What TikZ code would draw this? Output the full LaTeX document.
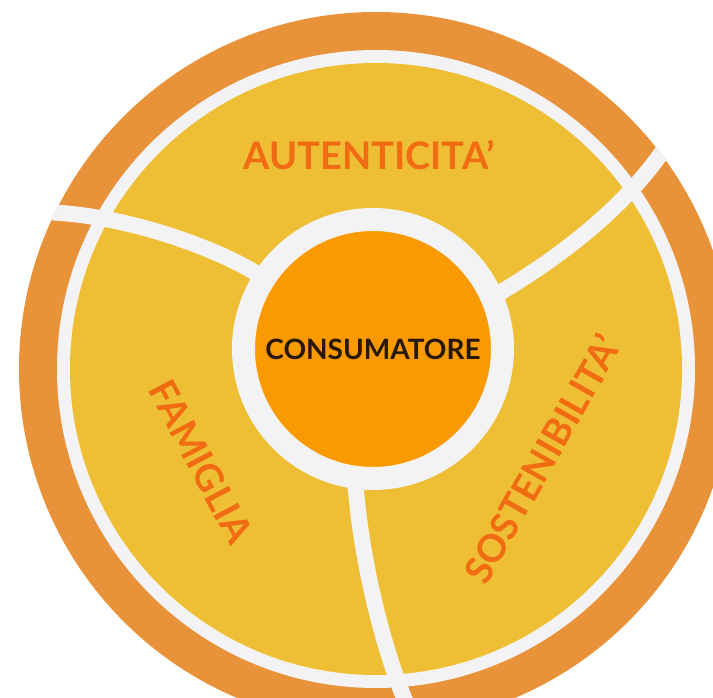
\documentclass[tikz,border=0pt]{standalone}
\usepackage{fontspec}
\setmainfont{Lato}
\usepackage{tikz}
\definecolor{ringorange}{RGB}{232,146,58}
\definecolor{discyellow}{RGB}{238,191,52}
\definecolor{coreorange}{RGB}{250,154,0}
\definecolor{labelorange}{RGB}{240,107,18}
\definecolor{gapwhite}{RGB}{243,243,245}
\definecolor{darktext}{RGB}{40,24,12}
\tikzstyle{core} = [circle, fill=coreorange, draw=gapwhite, line width=23pt, minimum size=259pt, inner sep=0pt, text=darktext, font=\fontsize{28}{28}\selectfont\bfseries]
\tikzstyle{spoke} = [draw=gapwhite, line width=16pt, shorten <=-5pt]
\tikzstyle{theme} = [text=labelorange, font=\fontsize{38}{38}\selectfont\bfseries]

\begin{document}
\begin{tikzpicture}[x=1pt,y=1pt]
    \useasboundingbox (0,0) rectangle (713,697);
    \clip (0,0) rectangle (713,697);

    %outer rings
    \fill[ringorange] (376,328) circle (357);
    \fill[gapwhite] (376,328) circle (319);
    \fill[discyellow] (376,328) circle (306);

    %consumer
    \node[core] at (373,348) (cons) {CONSUMATORE};

    %spokes
    \coordinate (rimL) at (40,485);
    \coordinate (rimR) at (672,560);
    \coordinate (rimB) at (412,-20);
    \begin{scope}
      \clip (376,328) circle (357);
      \draw[spoke] (cons.147) .. controls (215,450) and (120,484) .. (rimL);
      \draw[spoke] (cons.24) .. controls (560,440) and (630,492) .. (rimR);
      \draw[spoke] (cons.263) .. controls (362,130) and (385,40) .. (rimB);
    \end{scope}

    %values
    \node[theme] at (369,542) (aut) {AUTENTICITA’};
    \node[theme, rotate=-62] at (201,235) (fam) {FAMIGLIA};
    \node[theme, rotate=60.5] at (542,238) (sost) {SOSTENIBILITA’};

\end{tikzpicture}
\end{document}
